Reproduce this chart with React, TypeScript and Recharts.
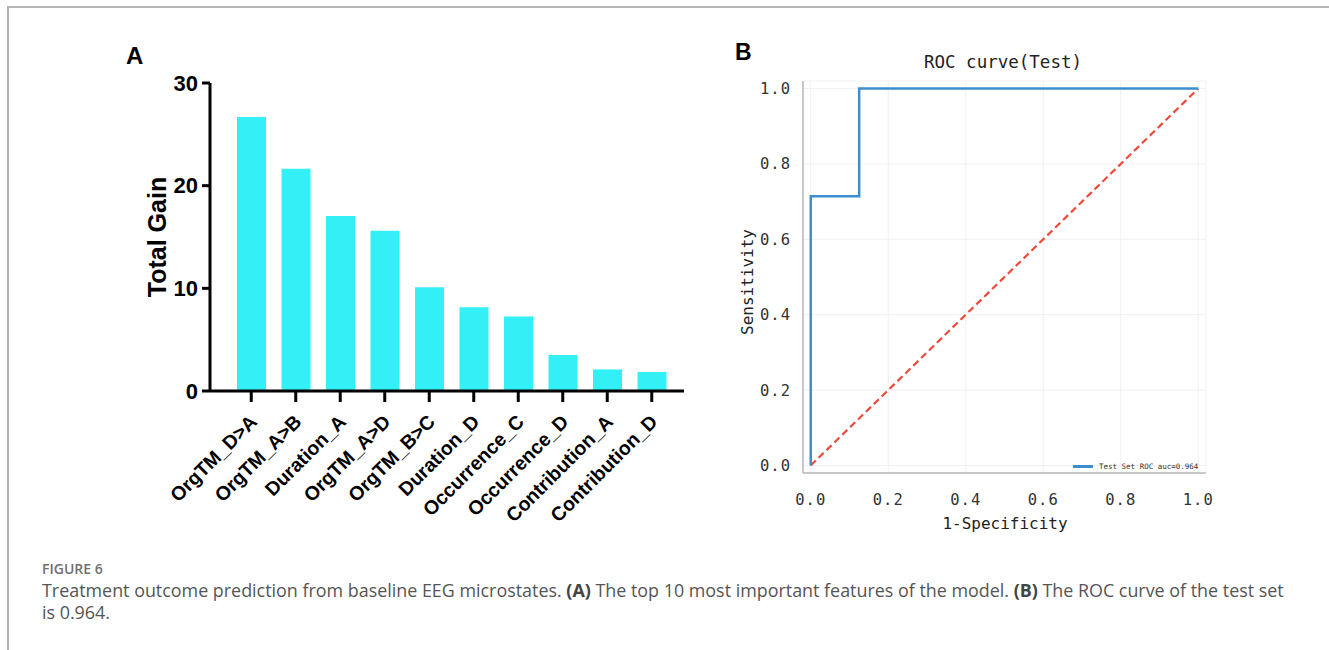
import React from "react";
import {
  BarChart,
  Bar,
  XAxis,
  YAxis,
  LineChart,
  Line,
  CartesianGrid,
  Legend,
} from "recharts";

// panel A: feature importance
const features = [
  "OrgTM_D>A",
  "OrgTM_A>B",
  "Duration_A",
  "OrgTM_A>D",
  "OrgTM_B>C",
  "Duration_D",
  "Occurrence_C",
  "Occurrence_D",
  "Contribution_A",
  "Contribution_D",
];
const totalGain = [26.7, 21.65, 17.05, 15.6, 10.1, 8.15, 7.25, 3.5, 2.1, 1.85];
const gainTicks = [0, 10, 20, 30];

// panel B: ROC curve
const fpr = [0, 0, 0.125, 0.125, 1];
const tpr = [0, 0.714, 0.714, 1, 1];
const chanceX = [0, 1];
const chanceY = [0, 1];
const rocTicks = [0, 0.2, 0.4, 0.6, 0.8, 1.0];

const barData = features.map((name, i) => ({ name, gain: totalGain[i] }));
const rocData = fpr.map((x, i) => ({ x, y: tpr[i] }));
const chanceData = chanceX.map((x, i) => ({ x, y: chanceY[i] }));

const ARIAL = "'Liberation Sans', Arial, sans-serif";
const MONO = "'DejaVu Sans Mono', monospace";

const FeatureTick = (props: any) => {
  const { x, y, payload } = props;
  return (
    <g transform={`translate(${x + 7},${y + 19})`}>
      <text
        x={0}
        y={0}
        textAnchor="end"
        transform="rotate(-45)"
        fontFamily={ARIAL}
        fontWeight="bold"
        fontSize={19.5}
        fill="#000"
      >
        {payload.value}
      </text>
    </g>
  );
};

const RocLegend = () => (
  <div style={{ display: "flex", alignItems: "center", fontFamily: MONO, fontSize: 7.5, color: "#333" }}>
    <span style={{ display: "inline-block", width: 20, height: 2.5, background: "#3b8ed0", marginRight: 6 }} />
    Test Set ROC auc=0.964
  </div>
);

const App = () => {
  return (
    <div style={{ position: "absolute", left: 0, top: 0, width: 1329, height: 650, background: "#fff" }}>
      {/* page frame */}
      <div
        style={{
          position: "absolute",
          left: 7,
          top: 6,
          width: 1322,
          height: 644,
          borderTop: "2px solid #b4b4b4",
          borderLeft: "2px solid #b4b4b4",
        }}
      />

      {/* A */}
      <div style={{ position: "absolute", left: 126, top: 42, fontFamily: ARIAL, fontWeight: 900, fontSize: 24 }}>A</div>
      <div
        style={{
          position: "absolute",
          left: 157,
          top: 237,
          transform: "translate(-50%,-50%) rotate(-90deg)",
          fontFamily: ARIAL,
          fontWeight: "bold",
          fontSize: 25,
          whiteSpace: "nowrap",
        }}
      >
        Total Gain
      </div>
      <div style={{ position: "absolute", left: 0, top: 0 }}>
        <BarChart width={720} height={540} data={barData} margin={{ top: 83, right: 36, bottom: 19, left: 150 }}>
          <XAxis
            dataKey="name"
            interval={0}
            height={130}
            padding={{ left: 19, right: 10 }}
            tickSize={11}
            axisLine={{ stroke: "#000", strokeWidth: 3 }}
            tickLine={{ stroke: "#000", strokeWidth: 3 }}
            tick={<FeatureTick />}
          />
          <YAxis
            domain={[0, 30]}
            ticks={gainTicks}
            width={60}
            tickSize={8}
            tickMargin={4}
            axisLine={{ stroke: "#000", strokeWidth: 3 }}
            tickLine={{ stroke: "#000", strokeWidth: 3 }}
            tick={{ fontFamily: ARIAL, fontWeight: "bold", fontSize: 22, fill: "#000" }}
          />
          <Bar dataKey="gain" fill="#33eff6" barSize={29} isAnimationActive={false} />
        </BarChart>
      </div>

      {/* B */}
      <div style={{ position: "absolute", left: 735, top: 39, fontFamily: ARIAL, fontWeight: 900, fontSize: 23 }}>B</div>
      <div
        style={{
          position: "absolute",
          left: 1003,
          top: 62,
          transform: "translate(-50%,-50%)",
          fontFamily: MONO,
          fontSize: 17.5,
          color: "#222",
          whiteSpace: "nowrap",
        }}
      >
        ROC curve(Test)
      </div>
      <div
        style={{
          position: "absolute",
          left: 747,
          top: 282,
          transform: "translate(-50%,-50%) rotate(-90deg)",
          fontFamily: MONO,
          fontSize: 16,
          color: "#222",
          whiteSpace: "nowrap",
        }}
      >
        Sensitivity
      </div>
      <div
        style={{
          position: "absolute",
          left: 1005,
          top: 523,
          transform: "translate(-50%,-50%)",
          fontFamily: MONO,
          fontSize: 16,
          color: "#222",
          whiteSpace: "nowrap",
        }}
      >
        1-Specificity
      </div>
      <div style={{ position: "absolute", left: 720, top: 40 }}>
        <LineChart width={500} height={510} margin={{ top: 41, right: 14, bottom: 0, left: 0 }}>
          <CartesianGrid stroke="#f1f1f1" strokeWidth={1} />
          <XAxis
            type="number"
            dataKey="x"
            domain={[-0.02, 1.02]}
            ticks={rocTicks}
            tickFormatter={(v: number) => v.toFixed(1)}
            height={68}
            tickSize={0}
            tickMargin={21}
            tickLine={false}
            axisLine={{ stroke: "#c8c8c8", strokeWidth: 2 }}
            tick={{ fontFamily: MONO, fontSize: 15.5, fill: "#333", letterSpacing: 1 }}
            allowDataOverflow
          />
          <XAxis
            xAxisId="top"
            orientation="top"
            type="number"
            domain={[-0.02, 1.02]}
            height={0}
            tick={false}
            tickLine={false}
            axisLine={{ stroke: "#c8c8c8", strokeWidth: 2 }}
          />
          <YAxis
            type="number"
            domain={[-0.02, 1.02]}
            ticks={rocTicks}
            tickFormatter={(v: number) => v.toFixed(1)}
            width={83}
            tickSize={0}
            tickMargin={12}
            tickLine={false}
            axisLine={{ stroke: "#c8c8c8", strokeWidth: 2 }}
            tick={{ fontFamily: MONO, fontSize: 15.5, fill: "#333", letterSpacing: 1 }}
            allowDataOverflow
          />
          <YAxis
            yAxisId="right"
            orientation="right"
            type="number"
            domain={[-0.02, 1.02]}
            width={0}
            tick={false}
            tickLine={false}
            axisLine={{ stroke: "#c8c8c8", strokeWidth: 2 }}
          />
          <Line
            data={chanceData}
            dataKey="y"
            type="linear"
            stroke="#ee4a3c"
            strokeWidth={2.2}
            strokeDasharray="7 4"
            dot={false}
            legendType="none"
            isAnimationActive={false}
          />
          <Line
            data={rocData}
            dataKey="y"
            name="Test Set ROC auc=0.964"
            type="linear"
            stroke="#3b8ed0"
            strokeWidth={2.5}
            dot={false}
            isAnimationActive={false}
          />
          <Legend content={<RocLegend />} wrapperStyle={{ position: "absolute", left: 353, top: 422, width: "auto" }} />
        </LineChart>
      </div>

      {/* caption */}
      <div
        style={{
          position: "absolute",
          left: 42,
          top: 559,
          fontFamily: "'Open Sans', sans-serif",
          fontWeight: 600,
          fontSize: 14,
          color: "#6f6f6f",
        }}
      >
        FIGURE 6
      </div>
      <div
        style={{
          position: "absolute",
          left: 42,
          top: 579,
          fontFamily: "'Open Sans', sans-serif",
          fontSize: 17.9,
          lineHeight: "22px",
          color: "#555",
          whiteSpace: "nowrap",
        }}
      >
        Treatment outcome prediction from baseline EEG microstates. <b style={{ color: "#444" }}>(A)</b> The top 10 most
        important features of the model. <b style={{ color: "#444" }}>(B)</b> The ROC curve of the test set
        <br />
        is 0.964.
      </div>
    </div>
  );
};

export default App;
